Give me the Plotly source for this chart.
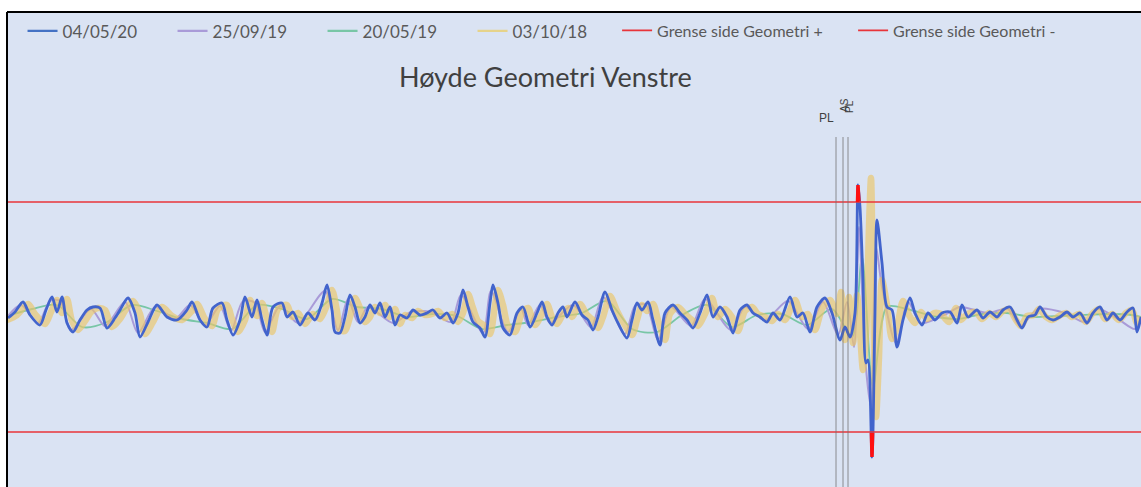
import plotly.graph_objects as go

# ---------------- data (chainage m, height mm) ----------------
SERIES_NAMES = ["04/05/20", "25/09/19", "20/05/19", "03/10/18"]
LIMIT_NAMES = ["Grense side Geometri +", "Grense side Geometri -"]
LIMIT_VALUES = [11.5, -11.5]
X_RANGE = [0, 1134]
Y_RANGE = [-17, 30.5]

BLUE_0405_20 = [
    (1, -0.1), (8, 0.5), (16, 1.5), (23, 0.2), (33, -0.8), (39, 0.7), (45, 2.0), (50, 0.5),
    (55, 2.0), (60, -0.6), (66, -1.5), (73, -0.3), (80, 0.7), (86, 1.0), (93, 0.9), (100, -1.1),
    (108, -0.1), (113, 0.7), (121, 1.9), (128, 0.4), (133, -2.0), (141, -0.5), (150, 1.2),
    (160, 0.0), (170, -0.3), (180, 0.7), (185, 1.5), (193, -0.3), (200, -1.0), (206, 0.9),
    (215, 1.4), (220, -0.3), (226, -1.8), (233, -0.3), (238, 2.0), (245, 0.0), (250, 1.7),
    (255, -0.3), (260, -1.8), (266, 1.0), (275, 1.4), (280, 0.0), (286, 0.5), (293, -0.8),
    (301, 0.4), (308, -0.3), (315, 1.4), (320, 3.2), (325, 0.7), (328, -1.5), (333, -1.6),
    (338, 0.0), (343, 2.2), (348, 1.0), (353, -0.6), (358, 0.0), (363, 1.2), (368, 0.4),
    (373, 1.4), (378, 0.0), (383, 1.0), (388, -0.8), (393, 0.2), (400, -0.1), (406, 0.7),
    (413, 0.2), (420, 0.4), (426, 0.7), (433, -0.1), (440, 0.4), (446, -0.6), (451, 0.4),
    (456, 2.7), (461, 1.0), (466, -0.5), (473, -1.1), (478, -2.0), (483, 1.4), (486, 3.2),
    (491, 1.4), (496, -1.1), (503, -1.8), (510, 0.4), (516, 1.0), (523, -1.0), (530, 0.4),
    (535, 1.5), (540, 0.0), (545, -0.8), (551, 0.4), (556, 1.0), (560, 0.0), (568, 1.5),
    (575, 0.2), (581, -0.3), (586, -1.3), (591, 0.0), (598, 2.5), (605, 0.7), (611, -0.6),
    (620, -2.1), (625, -0.3), (630, 1.4), (635, 0.7), (641, 1.5), (646, -0.3), (653, -2.8),
    (658, 0.4), (666, 1.2), (673, 0.4), (680, -0.3), (686, -1.1), (693, 0.4), (700, 2.2),
    (706, 0.0), (713, 1.0), (720, 0.0), (726, -1.6), (733, 0.7), (740, 1.2), (746, 0.4),
    (753, 0.0), (760, -0.5), (766, 0.4), (773, -0.3), (783, 2.0), (790, 0.0), (796, 0.4),
    (803, -1.5), (810, 1.0), (818, 1.9), (825, 0.4), (833, -2.3), (838, -1.0), (843, -2.0),
    (848, 0.4), (851, 13.2), (853, 11.0), (856, 3.7), (859, -4.6), (861, -4.3), (865, -14.0),
    (868, 0.4), (870, 9.7), (875, 5.4), (880, 1.0), (885, 0.7), (890, -3.0), (896, -0.3),
    (903, 1.9), (908, 0.4), (915, -0.8), (921, 0.4), (928, -0.3), (935, 0.4), (943, 0.5),
    (950, -0.6), (955, 1.2), (961, 0.0), (970, 0.7), (976, -0.1), (983, 0.5), (990, 0.0),
    (996, 0.7), (1003, 1.0), (1010, -0.3), (1015, -1.1), (1021, 0.0), (1028, 0.2), (1033, 1.0),
    (1040, 0.0), (1046, -0.3), (1053, 0.0), (1060, 0.5), (1066, 0.0), (1073, 0.4), (1080, -0.6),
    (1086, 0.4), (1093, 1.0), (1100, -0.3), (1106, 0.4), (1113, -0.3), (1120, 0.5), (1126, 0.9),
    (1130, -1.5), (1134, 0.0),
]

PURPLE_2509_19 = [
    (0, 0.0), (14, 1.2), (31, -0.6), (43, 1.6), (53, 1.6), (64, -1.3), (84, 0.8), (98, -0.9),
    (118, 1.5), (131, -1.6), (148, 1.0), (168, -0.2), (183, 1.2), (198, -0.8), (213, 1.1),
    (224, -1.4), (236, 1.6), (248, 1.4), (258, -1.5), (273, 1.1), (291, -0.6), (318, 2.6),
    (331, -1.3), (341, 1.8), (351, -0.5), (361, 1.0), (386, -0.6), (404, 0.5), (424, 0.5),
    (444, -0.5), (454, 2.2), (476, -1.6), (484, 2.6), (501, -1.5), (514, 0.8), (521, -0.8),
    (533, 1.2), (543, -0.6), (566, 1.2), (584, -1.0), (596, 2.0), (618, -1.7), (628, 1.1),
    (639, 1.2), (651, -2.3), (664, 1.0), (684, -0.9), (698, 1.8), (724, -1.3), (738, 1.0),
    (758, -0.3), (781, 1.6), (801, -1.2), (816, 1.5), (831, -1.8), (840, 1.5), (847, -3.0),
    (852, 9.0), (858, -4.0), (864, -9.0), (869, 7.0), (875, 3.0), (889, -2.6), (901, 1.5),
    (914, -0.6), (941, 0.4), (953, 1.0), (981, 0.4), (1001, 0.8), (1013, -0.9), (1031, 0.8),
    (1058, 0.4), (1078, -0.5), (1091, 0.8), (1111, -0.2), (1128, -1.2), (1134, 0.0),
]

GREEN_2005_19 = [
    (0, 0.1), (25, 0.8), (50, 1.2), (75, -1.0), (100, -0.5), (125, 1.2), (150, 0.6), (175, -0.2),
    (200, -0.6), (225, -1.2), (250, 1.2), (275, 0.8), (300, -0.2), (325, 1.8), (350, 1.0),
    (375, 0.8), (400, 0.0), (425, 0.3), (450, 0.1), (475, -1.2), (500, -0.8), (525, -0.5),
    (550, 0.0), (575, 0.4), (600, 1.6), (625, -1.2), (650, -1.5), (675, 0.2), (700, 1.2),
    (725, -1.0), (750, 0.2), (775, 0.3), (800, -0.8), (825, 0.8), (845, -2.0), (855, 6.0),
    (866, -7.0), (880, 1.0), (900, 0.8), (925, 0.1), (950, -0.2), (975, 0.3), (1000, 0.4),
    (1025, 0.0), (1050, 0.1), (1075, 0.2), (1100, 0.3), (1125, 0.2), (1134, 0.0),
]

YELLOW_0310_18 = [
    (0, -0.3), (10, 0.2), (21, 1.3), (28, 0.3), (38, -0.7), (44, 0.5), (50, 1.7), (55, 0.4),
    (60, 1.8), (65, -0.4), (71, -1.3), (78, -0.4), (85, 0.6), (91, 0.9), (98, 0.7), (105, -1.0),
    (113, -0.2), (118, 0.6), (126, 1.6), (133, 0.3), (138, -1.7), (146, -0.5), (155, 1.0),
    (165, 0.1), (175, -0.3), (185, 0.6), (190, 1.3), (198, -0.2), (205, -0.9), (211, 0.8),
    (220, 1.2), (225, -0.2), (231, -1.5), (238, -0.3), (243, 1.7), (250, 0.1), (255, 1.4),
    (260, -0.2), (265, -1.5), (271, 0.8), (280, 1.2), (285, 0.0), (291, 0.4), (298, -0.7),
    (306, 0.3), (313, -0.2), (320, 1.2), (325, 2.7), (330, 0.6), (333, -1.3), (338, -1.4),
    (343, 0.0), (348, 1.9), (353, 0.9), (358, -0.5), (363, 0.0), (368, 1.0), (373, 0.4),
    (378, 1.2), (383, 0.0), (388, 0.8), (393, -0.7), (398, 0.2), (405, -0.1), (411, 0.6),
    (418, 0.2), (425, 0.3), (431, 0.6), (438, -0.1), (445, 0.3), (451, -0.5), (456, 0.4),
    (461, 2.3), (466, 0.9), (471, -0.4), (478, -0.9), (483, -1.7), (488, 1.2), (491, 2.7),
    (496, 1.2), (501, -0.9), (508, -1.5), (515, 0.4), (521, 0.9), (528, -0.8), (535, 0.3),
    (540, 1.3), (545, 0.0), (550, -0.7), (556, 0.3), (561, 0.9), (565, 0.0), (573, 1.3),
    (580, 0.2), (586, -0.3), (591, -1.1), (596, 0.0), (603, 2.1), (610, 0.6), (616, -0.5),
    (625, -1.8), (630, -0.3), (635, 1.2), (640, 0.6), (646, 1.3), (651, -0.3), (658, -2.3),
    (663, 0.3), (671, 1.0), (678, 0.3), (685, -0.3), (691, -0.9), (698, 0.3), (705, 1.9),
    (711, 0.0), (718, 0.8), (725, 0.0), (731, -1.4), (738, 0.6), (745, 1.0), (751, 0.3),
    (758, 0.0), (765, -0.4), (771, 0.3), (778, -0.3), (788, 1.7), (795, 0.0), (801, 0.3),
    (808, -1.3), (815, 0.8), (823, 1.7), (830, 0.3), (834, 2.5), (838, -2.3), (842, 2.0),
    (846, -2.6), (850, 2.2), (853, -1.5), (856, -5.3), (859, -2.0), (862, 9.0), (864, 13.9),
    (866, 3.0), (869, -10.0), (872, -4.0), (875, 3.7), (880, 1.2), (885, -2.2), (890, -1.0),
    (896, 1.6), (902, 0.2), (908, -0.6), (914, 0.5), (920, -0.2), (927, 0.4), (934, 0.3),
    (942, -0.5), (949, 0.9), (954, -0.3), (960, 0.3), (969, 0.5), (975, -0.2), (982, 0.4),
    (989, 0.0), (995, 0.5), (1002, 0.8), (1009, -0.3), (1014, -0.9), (1020, 0.1), (1027, 0.2),
    (1032, 0.8), (1039, 0.0), (1045, -0.3), (1052, 0.1), (1059, 0.4), (1065, 0.0), (1072, 0.3),
    (1079, -0.5), (1085, 0.3), (1092, 0.8), (1098, -0.2), (1105, 0.3), (1112, -0.3), (1119, 0.4),
    (1125, 0.7), (1130, -0.6), (1134, 0.0),
]

# points of 04/05/20 outside the limits (drawn red)
EXCEED_X = [850.5, 851, 851.9, None, 864.4, 865, 865.6]
EXCEED_Y = [11.5, 13.2, 11.6, None, -11.6, -14.0, -11.6]

# object markers along the track
OBJ_X = [829, 836, 841]
OBJ_TOP = 18.0
OBJ_LABELS = ["PL", "AS", "PL"]

COLORS = ["#4264CC", "#A99BD8", "#78C6A6", "rgba(236,198,105,0.66)"]
LEGEND_COLORS = ["#4472C4", "#A99BD8", "#78C6A6", "#E6D38A"]
WIDTHS = [2.8, 2.0, 1.8, 6.5]


def xy(pairs):
    return [p[0] for p in pairs], [p[1] for p in pairs]


fig = go.Figure()

# draw order: green, purple, yellow, blue
draw = [(2, GREEN_2005_19), (1, PURPLE_2509_19), (3, YELLOW_0310_18), (0, BLUE_0405_20)]
for idx, data in draw:
    xs, ys = xy(data)
    fig.add_trace(go.Scatter(
        x=xs, y=ys, mode="lines", name=SERIES_NAMES[idx],
        line=dict(color=COLORS[idx], width=WIDTHS[idx], shape="spline", smoothing=0.8),
        legend="legend", legendrank=idx + 1, showlegend=False, hoverinfo="skip",
    ))
    # legend proxy with solid colour
    fig.add_trace(go.Scatter(
        x=[None], y=[None], mode="lines", name=SERIES_NAMES[idx],
        line=dict(color=LEGEND_COLORS[idx], width=2.2),
        legend="legend", legendrank=idx + 1, showlegend=True,
    ))

for name, val in zip(LIMIT_NAMES, LIMIT_VALUES):
    fig.add_trace(go.Scatter(
        x=X_RANGE, y=[val, val], mode="lines", name=name,
        line=dict(color="#E8343A", width=1.6), legend="legend2", hoverinfo="skip",
    ))

fig.add_trace(go.Scatter(
    x=EXCEED_X, y=EXCEED_Y, mode="lines", showlegend=False,
    line=dict(color="#FF1010", width=3.5), hoverinfo="skip",
))

for ox in OBJ_X:
    fig.add_trace(go.Scatter(
        x=[ox, ox], y=[OBJ_TOP, Y_RANGE[0]], mode="lines", showlegend=False,
        line=dict(color="rgba(110,110,110,0.75)", width=1), hoverinfo="skip",
    ))

# object labels
fig.add_annotation(x=OBJ_X[0] - 10, y=OBJ_TOP + 1.9, text=OBJ_LABELS[0], showarrow=False,
                   font=dict(family="Liberation Sans Narrow, Liberation Sans", size=12, color="#404040"))
fig.add_annotation(x=OBJ_X[1] + 1, y=OBJ_TOP + 3.2, text=OBJ_LABELS[1], showarrow=False, textangle=-90,
                   font=dict(family="Liberation Sans Narrow, Liberation Sans", size=10, color="#404040"))
fig.add_annotation(x=OBJ_X[2] + 1, y=OBJ_TOP + 3.0, text=OBJ_LABELS[2], showarrow=False, textangle=-90,
                   font=dict(family="Liberation Sans Narrow, Liberation Sans", size=10, color="#404040"))

fig.update_layout(
    width=1141, height=487,
    margin=dict(l=7, r=0, t=12, b=0, pad=0),
    paper_bgcolor="white", plot_bgcolor="#DAE3F3",
    xaxis=dict(range=X_RANGE, visible=False, fixedrange=True),
    yaxis=dict(range=Y_RANGE, visible=False, fixedrange=True),
    title=dict(text="Høyde Geometri Venstre", x=0.478, xanchor="center", y=1 - 78 / 487,
               yanchor="middle", font=dict(family="Lato", size=27, color="#404040")),
    legend=dict(orientation="h", x=0.0137, xanchor="left", y=0.997, yanchor="top",
                bgcolor="rgba(0,0,0,0)", font=dict(family="Lato", size=17, color="#595959"),
                entrywidth=105, traceorder="normal"),
    legend2=dict(orientation="h", x=0.538, xanchor="left", y=0.997, yanchor="top",
                 bgcolor="rgba(0,0,0,0)", font=dict(family="Lato", size=16, color="#595959"),
                 entrywidth=191),
    shapes=[
        dict(type="line", xref="paper", yref="paper", x0=0, x1=0, y0=0, y1=1,
             line=dict(color="black", width=2)),
        dict(type="line", xref="paper", yref="paper", x0=0, x1=1, y0=1, y1=1,
             line=dict(color="black", width=2)),
    ],
    showlegend=True,
)

fig.write_html("out.html", config={"displayModeBar": False},
               post_script="document.body.style.margin='0px';document.body.style.overflow='hidden';")
